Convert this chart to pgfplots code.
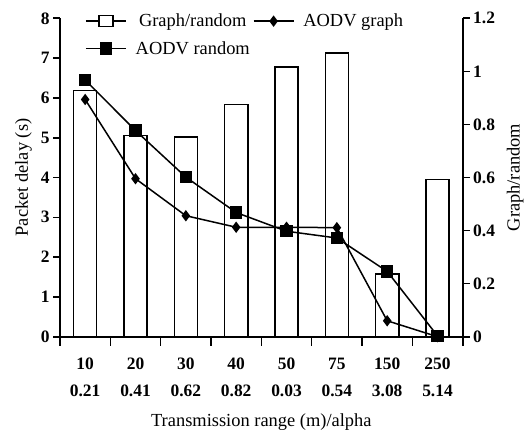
\documentclass[border=0pt]{standalone}
\usepackage{pgfplots}
\usepackage{pgfplotstable}
\pgfplotsset{compat=1.18}
\usepackage{fontspec}
\setmainfont{Liberation Serif}

% x: category index; ratio: Graph/random (right axis);
% graph, random: AODV packet delay in seconds (left axis)
\pgfplotstableread{
x ratio graph random
1 0.928 5.96 6.45
2 0.758 3.97 5.18
3 0.752 3.04 4.01
4 0.876 2.75 3.12
5 1.017 2.75 2.65
6 1.070 2.74 2.48
7 0.236 0.40 1.64
8 0.592 0.00 0.02
}\delaytable

\pgfplotsset{
  common/.style={
    scale only axis, width=402.7bp, height=318.4bp,
    xmin=0.5, xmax=8.5, ymin=0,
    tick align=outside,
    major tick length=7bp, minor tick length=9bp,
    axis line style={line width=1.6bp},
    every tick/.style={line width=1.6bp, black},
    tick label style={font=\fontsize{17.5}{27}\selectfont\bfseries},
    label style={font=\fontsize{18.5}{22}\selectfont},
    /pgf/number format/assume math mode=true,
  },
  barlegend/.style={
    legend image code/.code={
      \draw[line width=1.5bp] (0bp,0bp) -- (13bp,0bp);
      \draw[line width=1.5bp, fill=white] (13bp,-5.5bp) rectangle (27bp,5.5bp);
      \draw[line width=1.5bp] (27bp,0bp) -- (40bp,0bp);
    }
  },
}

\begin{document}
\begin{tikzpicture}
% bars: Graph/random on the right-hand scale
\begin{axis}[common, name=bars,
  axis x line*=bottom, axis y line*=right,
  ymax=1.2,
  ytick={0,0.2,0.4,0.6,0.8,1,1.2},
  yticklabels={0,0.2,0.4,0.6,0.8,1,1.2},
  ylabel={Graph/random},
  ylabel style={yshift=-5bp},
  xtick={1,...,8},
  major x tick style={draw=none},
  minor xtick={0.5,1.5,...,8.5},
  xticklabels={{10\\0.21},{20\\0.41},{30\\0.62},{40\\0.82},{50\\0.03},{75\\0.54},{150\\3.08},{250\\5.14}},
  xticklabel style={align=center, yshift=-11bp},
  xlabel={Transmission range (m)/alpha},
  xlabel style={yshift=-10bp},
]
\addplot[ybar, bar width=0.46, fill=white, draw=black, line width=1.5bp]
  table[x=x, y=ratio] {\delaytable};
\end{axis}

% lines: packet delay on the left-hand scale
\begin{axis}[common,
  axis x line=none, axis y line*=left,
  ymax=8, ytick={0,1,...,8},
  ylabel={Packet delay (s)},
  ylabel style={yshift=2bp},
  legend columns=2,
  legend cell align=center,
  legend style={draw=none, fill=none, inner sep=0pt,
    at={(axis description cs:0,1)}, anchor=west,
    xshift=25bp, yshift=-16.5bp,
    font=\fontsize{18.5}{22}\selectfont,
    row sep=9bp,
    /tikz/every odd column/.append style={column sep=7bp},
    /tikz/every even column/.append style={column sep=1bp}},
  legend image code/.code={
    \draw[mark repeat=2, mark phase=2, #1]
      plot coordinates {(0bp,0bp) (20bp,0bp) (40bp,0bp)};
  },
]
\addlegendimage{barlegend}
\addplot[black, line width=1.5bp, mark=diamond*, mark size=4.5bp,
  mark options={solid}]
  table[x=x, y=graph] {\delaytable};
\addplot[black, line width=1.5bp, mark=square*, mark size=5.5bp,
  mark options={solid}]
  table[x=x, y=random] {\delaytable};
\legend{Graph/random, AODV graph, AODV random}
\end{axis}

\pgfresetboundingbox
\useasboundingbox ([shift={(-60bp,-99.3bp)}]bars.south west)
  rectangle ([shift={(66.3bp,18.3bp)}]bars.north east);
\end{tikzpicture}
\end{document}
